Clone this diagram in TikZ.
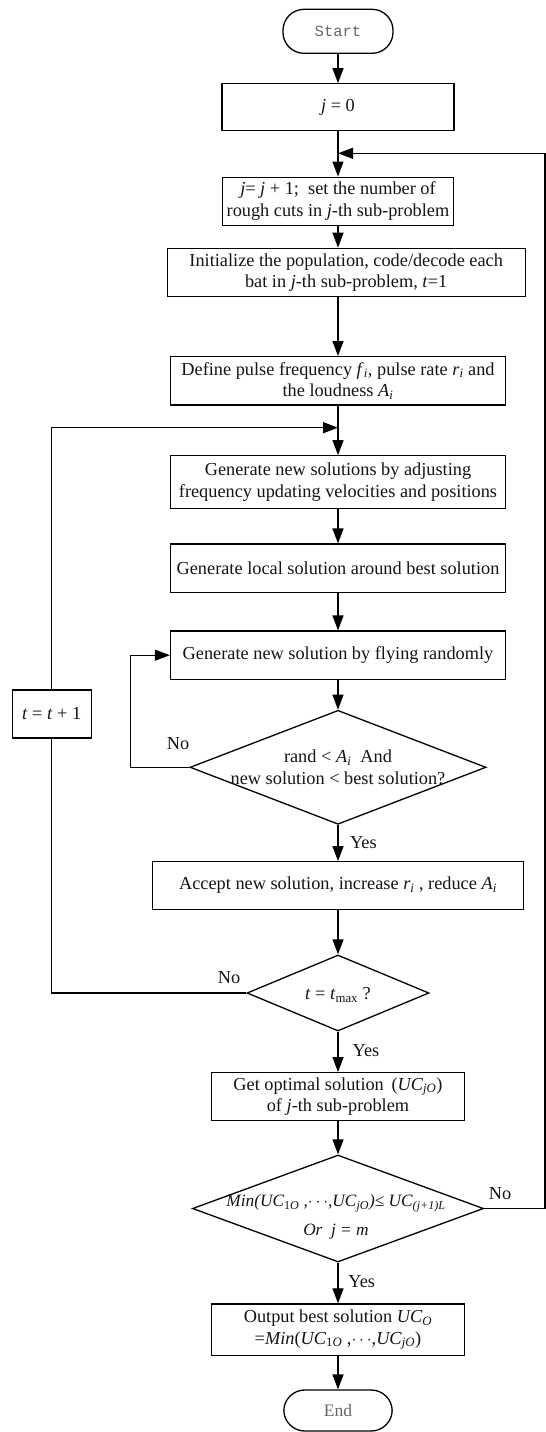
\documentclass[tikz,border=0pt]{standalone}
\usepackage{fontspec}
\setmainfont{Liberation Serif}
\newfontfamily\monof{Liberation Mono}
\usetikzlibrary{arrows.meta,shapes.geometric}
\begin{document}
\begin{tikzpicture}[x=1pt,y=-1pt,
  every node/.style={font=\fontsize{18.3}{21.6}\selectfont, text=black!92},
  box/.style={draw, line width=1.3pt, inner sep=0pt, align=center},
  term/.style={draw, line width=1.3pt, inner sep=0pt, rounded corners=21pt, text=black!60},
  dia/.style={draw, diamond, line width=1.3pt, inner sep=0pt},
  arr/.style={line width=1.3pt, -{Triangle[length=15pt,width=11pt]}},
  ln/.style={line width=1.3pt},
  lab/.style={inner sep=0pt, align=center}
]
\useasboundingbox (0,0) rectangle (546,1432);

% nodes
\node[term, minimum width=110pt, minimum height=44pt, font=\monof\fontsize{15.5}{18}\selectfont] (start) at (338,31.3) {Start};
\node[box, minimum width=232pt, minimum height=47pt] (j0) at (338,107.3) {\textit{j} = 0};
\node[box, minimum width=231pt, minimum height=48pt] (j1) at (338,201.2) {\textit{j}= \textit{j} + 1;\ \ set the number of\\rough cuts in \textit{j}-th sub-problem};
\node[box, minimum width=358pt, minimum height=48.4pt] (init) at (346.2,272.5) {Initialize the population, code/decode each\\bat in \textit{j}-th sub-problem, \textit{t}=1};
\node[box, minimum width=335.5pt, minimum height=48.3pt] (def) at (338,380.8) {Define pulse frequency \textit{f}\textsubscript{\textit{i}}, pulse rate \textit{r}\textsubscript{\textit{i}} and\\the loudness \textit{A}\textsubscript{\textit{i}}};
\node[box, minimum width=335.5pt, minimum height=52.6pt] (gen) at (338,482) {Generate new solutions by adjusting\\frequency updating velocities and positions};
\node[box, minimum width=335pt, minimum height=48.3pt] (loc) at (338,568.2) {Generate local solution around best solution};
\node[box, minimum width=335pt, minimum height=48.3pt] (rnd) at (338,655.2) {Generate new solution by flying randomly};
\node[dia, minimum width=296pt, minimum height=114pt] (d1) at (338,767.3) {};
\node[lab] (d1t) at (338,767.5) {rand < \textit{A}\textsubscript{\textit{i}}\ \ And\\new solution < best solution?};
\node[box, minimum width=371pt, minimum height=47.6pt] (acc) at (338,885.5) {Accept new solution, increase \textit{r}\textsubscript{\textit{i}} , reduce \textit{A}\textsubscript{\textit{i}}};
\node[dia, minimum width=182pt, minimum height=76pt] (d2) at (338,993) {};
\node[lab] (d2t) at (338,995) {\textit{t} = \textit{t}\textsubscript{max} ?};
\node[box, minimum width=253pt, minimum height=48pt] (get) at (338,1096.7) {Get optimal solution \,(\textit{UC}\textsubscript{\textit{jO}})\\of \textit{j}-th sub-problem};
\node[dia, minimum width=291pt, minimum height=107pt] (d3) at (338,1208.5) {};
\node[lab, font=\itshape\fontsize{17.3}{29}\selectfont] (d3t) at (336,1217) {Min(UC\textsubscript{\textup{1}O} ,$\cdots$,UC\textsubscript{jO})≤ UC\textsubscript{(j+1)L}\\Or\ \ j = m};
\node[box, minimum width=253pt, minimum height=51.7pt] (out) at (338,1329.8) {Output best solution \textit{UC}\textsubscript{\textit{O}}\\=\textit{Min}(\textit{UC}\textsubscript{1\textit{O}} ,$\cdots$,\textit{UC}\textsubscript{\textit{jO}})};
\node[term, minimum width=108.4pt, minimum height=41pt, font=\fontsize{17.5}{20}\selectfont] (end) at (338,1410.5) {End};
\node[box, minimum width=79pt, minimum height=48pt] (tb) at (51.7,714) {\textit{t} = \textit{t} + 1};

% labels
\node[lab] (no1) at (178,744) {No};
\node[lab] (yes1) at (363.4,843) {Yes};
\node[lab] (no2) at (229,977.7) {No};
\node[lab] (yes2) at (366,1050.7) {Yes};
\node[lab] (no3) at (500,1193.3) {No};
\node[lab] (yes3) at (361.7,1281.7) {Yes};

% junction coordinates
\coordinate (m0) at (338,153.3);
\coordinate (m1) at (338,427.7);
\coordinate (r1) at (545,1208.5);
\coordinate (l1) at (130.7,767.3);

% connectors
\draw[arr] (start) -- (j0);
\draw[arr] (j0) -- (j1);
\draw[arr] (j1) -- (j1.south |- init.north);
\draw[arr] (def.north |- init.south) -- (def);
\draw[arr] (def) -- (gen);
\draw[arr] (gen) -- (loc);
\draw[arr] (loc) -- (rnd);
\draw[arr] (rnd) -- (d1);
\draw[arr] (d1) -- (acc);
\draw[arr] (acc) -- (d2);
\draw[arr] (d2) -- (get);
\draw[arr] (get) -- (d3);
\draw[arr] (d3) -- (out);
\draw[arr] (out) -- (end);
\draw[arr] (d1.west) -- (l1) |- (rnd.west);
\draw[ln] (d2.west) -| (tb.south);
\draw[arr] (tb.north) |- (m1);
\draw[arr] (d3.east) -- (r1) |- (m0);
\end{tikzpicture}
\end{document}
